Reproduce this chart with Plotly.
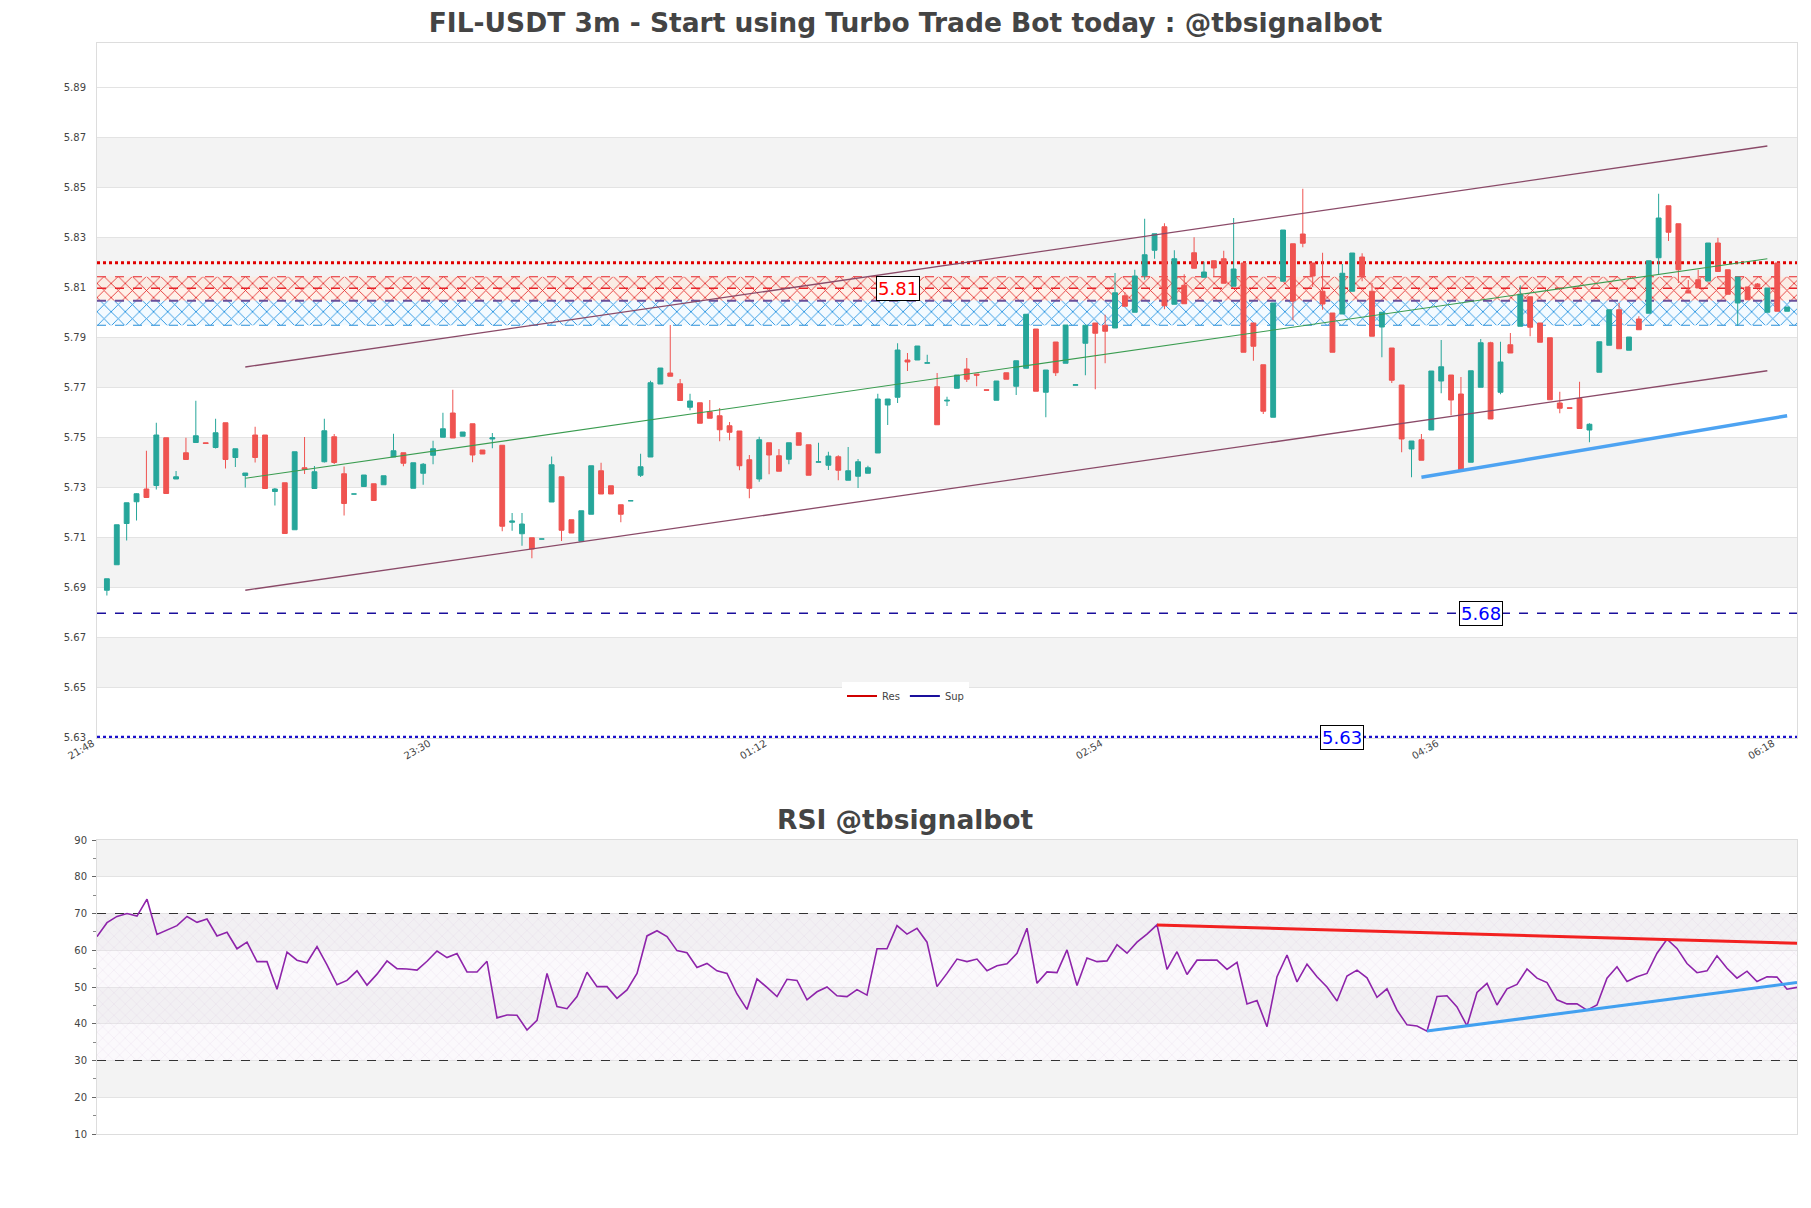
import pandas as pd
import plotly.graph_objects as go

# ---------------- data ----------------
start_time = "2024-01-01 21:48"
bar_minutes = 3

opens = [5.6887, 5.6989, 5.7154, 5.7241, 5.7292, 5.7306, 5.7497, 5.7332, 5.7437, 5.7478,
         5.7477, 5.7458, 5.7557, 5.7418, 5.7346, 5.7508, 5.7508, 5.7282, 5.7317, 5.7129,
         5.7377, 5.7294, 5.7401, 5.7501, 5.7353, 5.7272, 5.7302, 5.7313, 5.7309, 5.7420,
         5.7437, 5.7295, 5.7355, 5.7427, 5.7499, 5.7596, 5.7503, 5.7553, 5.7448, 5.7492,
         5.7467, 5.7159, 5.7113, 5.7097, 5.7092, 5.7240, 5.7341, 5.7169, 5.7083, 5.7191,
         5.7365, 5.7305, 5.7229, 5.7245, 5.7347, 5.7420, 5.7712, 5.7756, 5.7713, 5.7619,
         5.7637, 5.7601, 5.7585, 5.7545, 5.7524, 5.7409, 5.7332, 5.7477, 5.7425, 5.7411,
         5.7517, 5.7469, 5.7399, 5.7387, 5.7421, 5.7327, 5.7343, 5.7355, 5.7436, 5.7628,
         5.7659, 5.7808, 5.7808, 5.7795, 5.7701, 5.7644, 5.7695, 5.7772, 5.7752, 5.7689,
         5.7647, 5.7757, 5.7703, 5.7775, 5.7932, 5.7679, 5.7880, 5.7795, 5.7707, 5.7875,
         5.7956, 5.7947, 5.7936, 5.8065, 5.7999, 5.8145, 5.8247, 5.8341, 5.8031, 5.8107,
         5.8237, 5.8139, 5.8205, 5.8213, 5.8103, 5.8196, 5.7956, 5.7789, 5.7579, 5.8123,
         5.8273, 5.8312, 5.8196, 5.8083, 5.7996, 5.7992, 5.8083, 5.8220, 5.8083, 5.7940,
         5.7856, 5.7708, 5.7452, 5.7489, 5.7528, 5.7724, 5.7748, 5.7672, 5.7399, 5.7699,
         5.7877, 5.7679, 5.7869, 5.7943, 5.8061, 5.7956, 5.7897, 5.7636, 5.7617, 5.7654,
         5.7528, 5.7759, 5.7867, 5.8009, 5.7847, 5.7972, 5.7995, 5.8217, 5.8425, 5.8353,
         5.8085, 5.8129, 5.8124, 5.8276, 5.8169, 5.8036, 5.8100, 5.8112, 5.7999, 5.8196,
         5.8003]
highs = [5.6933, 5.7149, 5.7237, 5.7275, 5.7445, 5.7557, 5.7497, 5.7364, 5.7497, 5.7645,
         5.7477, 5.7573, 5.7557, 5.7453, 5.7356, 5.7541, 5.7508, 5.7296, 5.7317, 5.7441,
         5.7500, 5.7384, 5.7573, 5.7512, 5.7382, 5.7272, 5.7348, 5.7313, 5.7345, 5.7513,
         5.7437, 5.7397, 5.7396, 5.7485, 5.7597, 5.7689, 5.7520, 5.7553, 5.7448, 5.7516,
         5.7467, 5.7196, 5.7196, 5.7097, 5.7092, 5.7422, 5.7341, 5.7169, 5.7205, 5.7385,
         5.7397, 5.7305, 5.7229, 5.7245, 5.7433, 5.7725, 5.7776, 5.7948, 5.7732, 5.7673,
         5.7637, 5.7648, 5.7616, 5.7560, 5.7524, 5.7428, 5.7501, 5.7477, 5.7452, 5.7477,
         5.7517, 5.7469, 5.7477, 5.7441, 5.7427, 5.7460, 5.7412, 5.7385, 5.7673, 5.7652,
         5.7875, 5.7836, 5.7864, 5.7829, 5.7756, 5.7661, 5.7748, 5.7816, 5.7752, 5.7689,
         5.7724, 5.7757, 5.7805, 5.7991, 5.7932, 5.7768, 5.7880, 5.7948, 5.7709, 5.7947,
         5.7956, 5.7989, 5.8156, 5.8079, 5.8169, 5.8373, 5.8313, 5.8355, 5.8247, 5.8151,
         5.8299, 5.8201, 5.8205, 5.8245, 5.8376, 5.8196, 5.7956, 5.7789, 5.8036, 5.8328,
         5.8273, 5.8493, 5.8196, 5.8237, 5.7996, 5.8192, 5.8236, 5.8235, 5.8116, 5.7999,
         5.7856, 5.7708, 5.7484, 5.7512, 5.7764, 5.7888, 5.7748, 5.7740, 5.7765, 5.7892,
         5.7881, 5.7881, 5.7916, 5.8107, 5.8061, 5.7956, 5.7897, 5.7681, 5.7617, 5.7721,
         5.7555, 5.7881, 5.8009, 5.8036, 5.7900, 5.7983, 5.8205, 5.8473, 5.8425, 5.8353,
         5.8128, 5.8169, 5.8276, 5.8297, 5.8169, 5.8140, 5.8100, 5.8116, 5.8096, 5.8196,
         5.8020]
lows = [5.6866, 5.6989, 5.7086, 5.7166, 5.7256, 5.7290, 5.7274, 5.7332, 5.7410, 5.7478,
        5.7474, 5.7454, 5.7374, 5.7380, 5.7298, 5.7398, 5.7294, 5.7226, 5.7114, 5.7129,
        5.7352, 5.7294, 5.7398, 5.7392, 5.7186, 5.7272, 5.7302, 5.7246, 5.7309, 5.7420,
        5.7383, 5.7295, 5.7309, 5.7391, 5.7499, 5.7496, 5.7503, 5.7399, 5.7432, 5.7455,
        5.7123, 5.7125, 5.7065, 5.7015, 5.7092, 5.7240, 5.7084, 5.7116, 5.7083, 5.7191,
        5.7272, 5.7272, 5.7159, 5.7245, 5.7340, 5.7420, 5.7712, 5.7743, 5.7646, 5.7607,
        5.7555, 5.7575, 5.7483, 5.7487, 5.7367, 5.7255, 5.7321, 5.7351, 5.7363, 5.7391,
        5.7467, 5.7347, 5.7399, 5.7368, 5.7327, 5.7327, 5.7296, 5.7355, 5.7436, 5.7548,
        5.7636, 5.7764, 5.7808, 5.7795, 5.7549, 5.7624, 5.7695, 5.7720, 5.7703, 5.7687,
        5.7647, 5.7731, 5.7668, 5.7775, 5.7683, 5.7579, 5.7744, 5.7795, 5.7707, 5.7747,
        5.7691, 5.7795, 5.7936, 5.8023, 5.7999, 5.8129, 5.8213, 5.8011, 5.8031, 5.8033,
        5.8175, 5.8139, 5.8143, 5.8115, 5.8103, 5.7839, 5.7805, 5.7592, 5.7579, 5.8123,
        5.7967, 5.8259, 5.8100, 5.8009, 5.7839, 5.7992, 5.8083, 5.8123, 5.7903, 5.7819,
        5.7716, 5.7439, 5.7339, 5.7407, 5.7528, 5.7675, 5.7587, 5.7369, 5.7399, 5.7699,
        5.7572, 5.7671, 5.7836, 5.7943, 5.7903, 5.7879, 5.7649, 5.7595, 5.7615, 5.7534,
        5.7479, 5.7759, 5.7867, 5.7853, 5.7847, 5.7929, 5.7995, 5.8148, 5.8284, 5.8116,
        5.8076, 5.8096, 5.8124, 5.8162, 5.8071, 5.7945, 5.8049, 5.8100, 5.7999, 5.8003,
        5.8003]
closes = [5.6933, 5.7149, 5.7237, 5.7273, 5.7258, 5.7508, 5.7274, 5.7341, 5.7410, 5.7505,
          5.7474, 5.7517, 5.7410, 5.7453, 5.7356, 5.7418, 5.7294, 5.7292, 5.7114, 5.7441,
          5.7370, 5.7361, 5.7525, 5.7398, 5.7234, 5.7272, 5.7348, 5.7246, 5.7345, 5.7445,
          5.7395, 5.7397, 5.7391, 5.7453, 5.7533, 5.7496, 5.7520, 5.7428, 5.7432, 5.7497,
          5.7143, 5.7164, 5.7152, 5.7052, 5.7092, 5.7389, 5.7127, 5.7116, 5.7205, 5.7385,
          5.7272, 5.7272, 5.7191, 5.7245, 5.7381, 5.7717, 5.7776, 5.7743, 5.7646, 5.7644,
          5.7555, 5.7575, 5.7529, 5.7519, 5.7385, 5.7295, 5.7489, 5.7428, 5.7363, 5.7477,
          5.7467, 5.7347, 5.7401, 5.7424, 5.7367, 5.7365, 5.7401, 5.7377, 5.7652, 5.7652,
          5.7848, 5.7800, 5.7864, 5.7797, 5.7549, 5.7647, 5.7748, 5.7731, 5.7747, 5.7687,
          5.7724, 5.7731, 5.7805, 5.7991, 5.7683, 5.7768, 5.7757, 5.7948, 5.7709, 5.7947,
          5.7915, 5.7923, 5.8077, 5.8023, 5.8144, 5.8229, 5.8313, 5.8025, 5.8213, 5.8033,
          5.8175, 5.8160, 5.8176, 5.8115, 5.8172, 5.7839, 5.7863, 5.7603, 5.8036, 5.8328,
          5.8044, 5.8275, 5.8144, 5.8032, 5.7839, 5.8155, 5.8236, 5.8145, 5.7903, 5.7999,
          5.7727, 5.7492, 5.7484, 5.7407, 5.7764, 5.7781, 5.7648, 5.7369, 5.7765, 5.7877,
          5.7572, 5.7800, 5.7836, 5.8071, 5.7939, 5.7879, 5.7649, 5.7615, 5.7615, 5.7534,
          5.7551, 5.7881, 5.8009, 5.7853, 5.7900, 5.7929, 5.8205, 5.8376, 5.8319, 5.8169,
          5.8076, 5.8096, 5.8276, 5.8162, 5.8071, 5.8140, 5.8049, 5.8100, 5.8096, 5.8003,
          5.8020]

rsi_values = [63.7, 67.5, 69.2, 70.0, 69.3, 73.9, 64.3, 65.5, 66.7, 69.2,
              67.6, 68.5, 63.9, 64.9, 60.4, 62.2, 56.9, 56.9, 49.4, 59.5,
              57.3, 56.6, 61.0, 56.0, 50.6, 51.8, 54.4, 50.5, 53.5, 57.1,
              55.0, 54.9, 54.6, 57.0, 59.8, 58.0, 59.1, 54.1, 54.1, 57.0,
              41.6, 42.4, 42.3, 38.3, 40.9, 53.7, 44.7, 44.1, 47.4, 54.0,
              50.1, 50.1, 46.9, 49.2, 53.7, 63.9, 65.3, 63.7, 59.9, 59.3,
              55.3, 56.4, 54.4, 53.7, 48.1, 43.9, 52.2, 49.9, 47.4, 52.1,
              51.8, 46.5, 48.7, 50.0, 47.6, 47.4, 49.3, 47.8, 60.4, 60.4,
              66.7, 64.4, 66.0, 62.2, 50.1, 53.7, 57.6, 56.9, 57.6, 54.4,
              55.8, 56.3, 59.2, 66.0, 51.0, 54.1, 53.9, 60.1, 50.4, 57.9,
              56.9, 57.1, 61.5, 59.2, 62.2, 64.4, 66.9, 54.8, 59.6, 53.4,
              57.3, 57.3, 57.3, 54.8, 56.7, 45.4, 46.3, 39.2, 52.8, 58.7,
              51.4, 56.2, 52.8, 50.0, 46.2, 53.0, 54.6, 52.5, 47.2, 49.5,
              43.7, 39.7, 39.4, 38.0, 47.4, 47.6, 44.6, 39.4, 48.5, 51.0,
              45.1, 49.5, 50.7, 54.9, 52.4, 51.2, 46.5, 45.4, 45.4, 43.7,
              45.1, 52.4, 55.5, 51.5, 52.8, 53.7, 59.2, 63.0, 60.5, 56.4,
              53.9, 54.4, 58.5, 55.1, 52.4, 54.3, 51.5, 52.8, 52.7, 49.4,
              49.9]

tick_labels = ["21:48", "23:30", "01:12", "02:54", "04:36", "06:18"]
tick_every = 34  # bars between labels

# price levels
res_line = 5.8095
res_label = "5.81"
res_dotted = 5.8197
res_zone = [5.8045, 5.8141]
sup_zone = [5.7947, 5.8045]
sup_lines = [5.6795, 5.6300]
sup_labels = ["5.68", "5.63"]

# channel / trend lines (bar index, price)
channel_idx = [14, 168]
channel_upper = [5.7780, 5.8664]
channel_mid = [5.7335, 5.8213]
channel_lower = [5.6887, 5.7765]
sup_trend_idx = [133, 170]
sup_trend = [5.7339, 5.7585]

# RSI trend lines
rsi_res_idx = [106, 170]
rsi_res = [66.9, 61.9]
rsi_sup_idx = [133, 170]
rsi_sup = [38.0, 51.2]

price_ticks = [5.63, 5.65, 5.67, 5.69, 5.71, 5.73, 5.75, 5.77, 5.79, 5.81, 5.83, 5.85, 5.87, 5.89]
rsi_ticks = [10, 20, 30, 40, 50, 60, 70, 80, 90]

# ---------------- figure ----------------
times = pd.date_range(start_time, periods=len(opens), freq=f"{bar_minutes}min")
step = pd.Timedelta(minutes=bar_minutes)
x_left = times[0] - step
x_right = times[-1] + step
PRICE_RANGE = [5.6296, 5.9076]

W, H = 1811, 1208
ML, MR, MT, MB = 97, 14, 43, 74
PH = H - MT - MB

def pa_y(p):  # page pixel -> paper y
    return (H - MB - p) / PH

def pa_x(p):
    return (p - ML) / (W - ML - MR)

Y_MAIN = [pa_y(738), 1.0]
Y_RSI = [0.0, pa_y(840)]

INC = "#26a69a"
DEC = "#ef5350"
BAND = "#f3f3f3"
GRID = "#e3e3e3"

fig = go.Figure()

# hatched zones (base price axis, underneath candles)
def zone(lo, hi, fg, bg, name):
    fig.add_trace(go.Scatter(
        x=[x_left, x_right, x_right, x_left, x_left],
        y=[lo, lo, hi, hi, lo], mode="lines", line=dict(width=0),
        fill="toself", fillcolor=bg,
        fillpattern=dict(shape="x", fgcolor=fg, bgcolor=bg, size=10, solidity=0.17, fgopacity=1),
        hoverinfo="skip", showlegend=False, name=name, xaxis="x", yaxis="y"))

zone(res_zone[0], res_zone[1], "#e43030", "rgba(255,232,218,0.6)", "res zone")
zone(sup_zone[0], sup_zone[1], "#2090e0", "rgba(232,245,255,0.5)", "sup zone")

def hline(y, color, dash, width, xa="x", ya="y"):
    fig.add_trace(go.Scatter(x=[x_left, x_right], y=[y, y], mode="lines",
                             line=dict(color=color, dash=dash, width=width),
                             hoverinfo="skip", showlegend=False, xaxis=xa, yaxis=ya))

hline(res_zone[1], "#e8242a", "dash", 1.2)
hline(res_line, "#e8242a", "dash", 1.5)
hline(sup_zone[1], "#6a4f9a", "dash", 2.2)
hline(sup_zone[0], "#2a8fd8", "dash", 1.2)
hline(res_dotted, "#e00000", "dot", 3)
hline(sup_lines[0], "#1a0f9c", "dash", 1.5)
hline(sup_lines[1], "#1a0fcc", "dot", 2.5)

# candles on an overlaying price axis so they sit above the zones
fig.add_trace(go.Candlestick(
    x=times, open=opens, high=highs, low=lows, close=closes,
    increasing=dict(line=dict(color=INC, width=1), fillcolor=INC),
    decreasing=dict(line=dict(color=DEC, width=1), fillcolor=DEC),
    whiskerwidth=0, showlegend=False, name="FIL-USDT", xaxis="x", yaxis="y3"))

# channel
cx = [times[i] for i in channel_idx]
for yy, col, wd in ((channel_upper, "#8a4a68", 1.3), (channel_lower, "#8a4a68", 1.3),
                    (channel_mid, "#3a9c50", 1.1)):
    fig.add_trace(go.Scatter(x=cx, y=yy, mode="lines", line=dict(color=col, width=wd),
                             hoverinfo="skip", showlegend=False, xaxis="x", yaxis="y3"))

# support trend
fig.add_trace(go.Scatter(x=[times[i] for i in sup_trend_idx], y=sup_trend, mode="lines",
                         line=dict(color="#4da3f2", width=3.5), hoverinfo="skip", showlegend=False,
                         xaxis="x", yaxis="y3"))

# legend entries
fig.add_trace(go.Scatter(x=[None], y=[None], mode="lines", line=dict(color="#d00000", width=2), name="Res"))
fig.add_trace(go.Scatter(x=[None], y=[None], mode="lines", line=dict(color="#1a0f9c", width=2), name="Sup"))

# RSI panel
fig.add_trace(go.Scatter(
    x=[times[0], times[-1], times[-1], times[0], times[0]], y=[30, 30, 70, 70, 30],
    mode="lines", line=dict(width=0), fill="toself", fillcolor="rgba(235,225,240,0.25)",
    fillpattern=dict(shape="x", fgcolor="rgba(195,165,212,0.65)", bgcolor="rgba(240,232,245,0.25)", size=8, solidity=0.1),
    hoverinfo="skip", showlegend=False, xaxis="x2", yaxis="y2"))
for lv in (70, 30):
    fig.add_trace(go.Scatter(x=[times[0], times[-1]], y=[lv, lv], mode="lines",
                             line=dict(color="#333333", dash="dash", width=1.2),
                             hoverinfo="skip", showlegend=False, xaxis="x2", yaxis="y2"))
fig.add_trace(go.Scatter(x=times, y=rsi_values, mode="lines", line=dict(color="#8e24aa", width=1.6),
                         showlegend=False, name="RSI", xaxis="x2", yaxis="y2"))
fig.add_trace(go.Scatter(x=[times[i] for i in rsi_res_idx], y=rsi_res, mode="lines",
                         line=dict(color="#f22020", width=3), hoverinfo="skip", showlegend=False,
                         xaxis="x2", yaxis="y2"))
fig.add_trace(go.Scatter(x=[times[i] for i in rsi_sup_idx], y=rsi_sup, mode="lines",
                         line=dict(color="#42a0f0", width=3), hoverinfo="skip", showlegend=False,
                         xaxis="x2", yaxis="y2"))

# background bands
shapes = []
for k in range(1, len(price_ticks) - 1, 2):
    shapes.append(dict(type="rect", xref="x domain", yref="y", x0=0, x1=1,
                       y0=price_ticks[k], y1=price_ticks[k + 1], fillcolor=BAND,
                       line=dict(width=0), layer="below"))
for k in range(1, len(rsi_ticks) - 1, 2):
    shapes.append(dict(type="rect", xref="x2 domain", yref="y2", x0=0, x1=1,
                       y0=rsi_ticks[k], y1=rsi_ticks[k + 1], fillcolor=BAND,
                       line=dict(width=0), layer="below"))

label_font = dict(family="DejaVu Sans", size=18)
annotations = [
    dict(text=res_label, x=times[80], y=res_line, xref="x", yref="y", showarrow=False,
         font=dict(label_font, color="#ff0000"), bgcolor="white", bordercolor="black",
         borderwidth=1, borderpad=1),
    dict(text=sup_labels[0], x=times[139], y=sup_lines[0], xref="x", yref="y", showarrow=False,
         font=dict(label_font, color="#0000ff"), bgcolor="white", bordercolor="black",
         borderwidth=1, borderpad=1),
    dict(text=sup_labels[1], x=times[125], y=sup_lines[1], xref="x", yref="y", showarrow=False,
         font=dict(label_font, color="#0000ff"), bgcolor="white", bordercolor="black",
         borderwidth=1, borderpad=1),
    dict(text="<b>RSI @tbsignalbot</b>", x=pa_x(W / 2), y=pa_y(819), xref="paper", yref="paper",
         showarrow=False, font=dict(family="DejaVu Sans", size=26.5, color="#444444"),
         xanchor="center", yanchor="middle"),
]

axis_common = dict(showline=True, mirror=True, linecolor="#dddddd", linewidth=1, zeroline=False,
                   automargin=False)

fig.update_layout(
    width=W, height=H, margin=dict(l=ML, r=MR, t=MT, b=MB, autoexpand=False),
    paper_bgcolor="white", plot_bgcolor="white",
    font=dict(family="DejaVu Sans", color="#444444", size=10),
    title=dict(text="<b>FIL-USDT 3m - Start using Turbo Trade Bot today : @tbsignalbot</b>",
               x=0.5, xanchor="center", xref="container", y=1 - 23 / H, yanchor="middle",
               yref="container", automargin=False,
               font=dict(family="DejaVu Sans", size=26.5, color="#444444")),
    xaxis=dict(domain=[0, 1], anchor="y", type="date", range=[x_left, x_right],
               rangeslider=dict(visible=False), showgrid=False,
               tickvals=list(times[::tick_every]), ticktext=tick_labels, tickangle=-30,
               ticklabelshift=-14, ticklabelstandoff=-5,
               tickfont=dict(size=10), **axis_common),
    yaxis=dict(domain=Y_MAIN, anchor="x", range=PRICE_RANGE, tickvals=price_ticks,
               ticktext=[f"{v:.2f}" for v in price_ticks], gridcolor=GRID, tickfont=dict(size=10),
               ticklabelstandoff=8, **axis_common),
    yaxis3=dict(overlaying="y", anchor="x", range=PRICE_RANGE, showgrid=False, showticklabels=False,
                showline=False, zeroline=False, automargin=False),
    xaxis2=dict(domain=[0, 1], anchor="y2", type="date", range=[times[0], times[-1]],
                showticklabels=False, showgrid=False, **axis_common),
    yaxis2=dict(domain=Y_RSI, anchor="x2", range=[10, 90], tickvals=rsi_ticks, gridcolor=GRID,
                ticks="outside", ticklen=4, tickcolor="#666", ticklabelstandoff=3,
                minor=dict(dtick=5, tick0=5, ticks="outside", ticklen=3, tickcolor="#888", showgrid=False),
                tickfont=dict(size=10), **axis_common),
    legend=dict(orientation="h", x=pa_x(W / 2), xanchor="center", y=pa_y(696), yanchor="middle",
                bgcolor="white", font=dict(size=10), itemwidth=30),
    shapes=shapes, annotations=annotations, showlegend=True,
)

fig.write_html("out.html", config={"displayModeBar": False},
               post_script="document.body.style.margin='0';document.body.style.overflow='hidden';")
